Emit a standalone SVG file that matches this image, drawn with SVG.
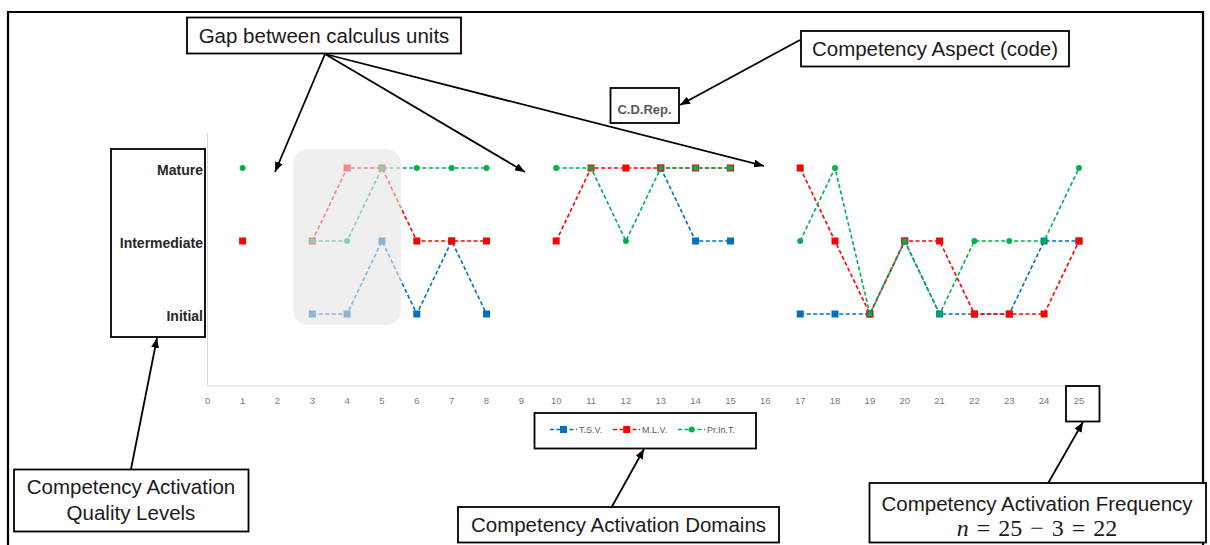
<svg xmlns="http://www.w3.org/2000/svg" width="1210" height="545" viewBox="0 0 1210 545">
  <style>
    .box { fill: #ffffff; stroke: #000000; stroke-width: 1.8; }
    .lbl { font-family: "Liberation Sans", Arial, sans-serif; font-size: 20.5px; fill: #1a1a1a; }
    .eq { font-family: "Liberation Serif", "Times New Roman", serif; font-size: 24px; fill: #1a1a1a; word-spacing: 2px; }
    .lvl { font-family: "Liberation Sans", Arial, sans-serif; font-size: 14px; font-weight: bold; fill: #262626; text-anchor: end; }
    .tick { font-family: "Liberation Sans", Arial, sans-serif; font-size: 9.5px; fill: #7a7a7a; text-anchor: middle; }
    .leg { font-family: "Liberation Sans", Arial, sans-serif; font-size: 9px; fill: #595959; }
    .axis { stroke: #d9d9d9; stroke-width: 1; fill: none; }
    .ser { fill: none; stroke-width: 1.6; stroke-dasharray: 4 2.5; }
    .tsv { stroke: #0070c0; }
    .mlv { stroke: #ff0000; }
    .pit { stroke: #00b050; }
    .mb { fill: #0070c0; }
    .mr { fill: #ff0000; }
    .mg { fill: #00b050; }
    .conn { stroke: #000000; stroke-width: 1.8; fill: none; marker-end: url(#ah); }
  </style>
  <defs>
    <marker id="ah" viewBox="0 0 10 8" refX="10" refY="4" markerWidth="10" markerHeight="8" markerUnits="userSpaceOnUse" orient="auto">
      <path d="M0,0 L10,4 L0,8 z" fill="#000000"/>
    </marker>
    <rect id="sq" x="-3.5" y="-3.5" width="7" height="7"/>
    <rect id="sqs" x="-2.5" y="-2.5" width="5" height="5"/>
    <circle id="dot" r="3"/>
  </defs>

  <rect width="1210" height="545" fill="#ffffff"/>

  <!-- outer frame -->
  <path d="M8,545 V12 H1203 V545" fill="none" stroke="#000000" stroke-width="2.2"/>

  <!-- chart -->
  <g id="chart">
    <path class="axis" d="M207.5,133 V386 H1097"/>

    <g id="x-ticks">
      <text class="tick" x="207.7" y="404">0</text>
      <text class="tick" x="242.6" y="404">1</text>
      <text class="tick" x="277.4" y="404">2</text>
      <text class="tick" x="312.3" y="404">3</text>
      <text class="tick" x="347.1" y="404">4</text>
      <text class="tick" x="382" y="404">5</text>
      <text class="tick" x="416.8" y="404">6</text>
      <text class="tick" x="451.7" y="404">7</text>
      <text class="tick" x="486.5" y="404">8</text>
      <text class="tick" x="521.4" y="404">9</text>
      <text class="tick" x="556.2" y="404">10</text>
      <text class="tick" x="591.1" y="404">11</text>
      <text class="tick" x="625.9" y="404">12</text>
      <text class="tick" x="660.8" y="404">13</text>
      <text class="tick" x="695.6" y="404">14</text>
      <text class="tick" x="730.5" y="404">15</text>
      <text class="tick" x="765.3" y="404">16</text>
      <text class="tick" x="800.2" y="404">17</text>
      <text class="tick" x="835" y="404">18</text>
      <text class="tick" x="869.9" y="404">19</text>
      <text class="tick" x="904.7" y="404">20</text>
      <text class="tick" x="939.6" y="404">21</text>
      <text class="tick" x="974.4" y="404">22</text>
      <text class="tick" x="1009.3" y="404">23</text>
      <text class="tick" x="1044.1" y="404">24</text>
      <text class="tick" x="1079" y="404">25</text>
    </g>

    <!-- T.S.V. series -->
    <g id="series-tsv">
      <polyline class="ser tsv" points="312.3,314 347.1,314 382,241 416.8,314 451.7,241 486.5,314"/>
      <polyline class="ser tsv" points="660.8,168 695.6,241 730.5,241"/>
      <polyline class="ser tsv" points="800.2,314 835,314 869.9,314 904.7,241 939.6,314 974.4,314 1009.3,314 1044.1,241 1079,241"/>
      <g class="mb">
        <use href="#sq" x="312.3" y="314"/><use href="#sq" x="347.1" y="314"/><use href="#sq" x="382" y="241"/>
        <use href="#sq" x="416.8" y="314"/><use href="#sq" x="451.7" y="241"/><use href="#sq" x="486.5" y="314"/>
        <use href="#sq" x="660.8" y="168"/><use href="#sq" x="695.6" y="241"/><use href="#sq" x="730.5" y="241"/>
        <use href="#sq" x="800.2" y="314"/><use href="#sq" x="835" y="314"/><use href="#sq" x="869.9" y="314"/>
        <use href="#sq" x="904.7" y="241"/><use href="#sq" x="939.6" y="314"/><use href="#sq" x="974.4" y="314"/>
        <use href="#sq" x="1009.3" y="314"/><use href="#sq" x="1044.1" y="241"/><use href="#sq" x="1079" y="241"/>
      </g>
    </g>

    <!-- M.L.V. series -->
    <g id="series-mlv">
      <polyline class="ser mlv" points="312.3,241 347.1,168 382,168 416.8,241 451.7,241 486.5,241"/>
      <polyline class="ser mlv" points="556.2,241 591.1,168 625.9,168 660.8,168 695.6,168 730.5,168"/>
      <polyline class="ser mlv" points="800.2,168 835,241 869.9,314 904.7,241 939.6,241 974.4,314 1009.3,314 1044.1,314 1079,241"/>
      <g class="mr">
        <use href="#sq" x="242.6" y="241"/>
        <use href="#sq" x="312.3" y="241"/><use href="#sq" x="347.1" y="168"/><use href="#sq" x="382" y="168"/>
        <use href="#sq" x="416.8" y="241"/><use href="#sq" x="451.7" y="241"/><use href="#sq" x="486.5" y="241"/>
        <use href="#sq" x="556.2" y="241"/><use href="#sq" x="591.1" y="168"/><use href="#sq" x="625.9" y="168"/>
        <use href="#sq" x="660.8" y="168"/><use href="#sq" x="695.6" y="168"/><use href="#sq" x="730.5" y="168"/>
        <use href="#sq" x="800.2" y="168"/><use href="#sq" x="835" y="241"/><use href="#sq" x="869.9" y="314"/>
        <use href="#sq" x="904.7" y="241"/><use href="#sq" x="939.6" y="241"/><use href="#sq" x="974.4" y="314"/>
        <use href="#sq" x="1009.3" y="314"/><use href="#sq" x="1044.1" y="314"/><use href="#sq" x="1079" y="241"/>
      </g>
    </g>

    <!-- Pr.In.T. series -->
    <g id="series-print">
      <polyline class="ser pit" points="312.3,241 347.1,241 382,168 416.8,168 451.7,168 486.5,168"/>
      <polyline class="ser pit" points="556.2,168 591.1,168 625.9,241 660.8,168 695.6,168 730.5,168"/>
      <polyline class="ser pit" points="800.2,241 835,168 869.9,314 904.7,241 939.6,314 974.4,241 1009.3,241 1044.1,241 1079,168"/>
      <g class="mg">
        <use href="#dot" x="242.6" y="168"/>
        <use href="#dot" x="347.1" y="241"/>
        <use href="#dot" x="416.8" y="168"/><use href="#dot" x="451.7" y="168"/><use href="#dot" x="486.5" y="168"/>
        <use href="#dot" x="556.2" y="168"/><use href="#dot" x="625.9" y="241"/>
        <use href="#dot" x="800.2" y="241"/><use href="#dot" x="835" y="168"/>
        <use href="#dot" x="974.4" y="241"/><use href="#dot" x="1009.3" y="241"/><use href="#dot" x="1079" y="168"/>
        <!-- points shared with a square-marker series -->
        <use href="#sqs" x="312.3" y="241"/><use href="#sqs" x="382" y="168"/>
        <use href="#sqs" x="591.1" y="168"/><use href="#sqs" x="660.8" y="168"/><use href="#sqs" x="695.6" y="168"/><use href="#sqs" x="730.5" y="168"/>
        <use href="#sqs" x="869.9" y="314"/><use href="#sqs" x="904.7" y="241"/><use href="#sqs" x="939.6" y="314"/><use href="#sqs" x="1044.1" y="241"/>
      </g>
    </g>

    <!-- shaded highlight over units 3-5 -->
    <rect id="highlight" x="293" y="149" width="108" height="176" rx="15" fill="#e4e4e4" opacity="0.6"/>

    <!-- legend -->
    <g id="legend">
      <rect class="box" x="534.5" y="413" width="221.5" height="35.5"/>
      <line class="ser tsv" x1="550" y1="429.5" x2="577" y2="429.5" stroke-dasharray="3 2"/>
      <use href="#sq" x="563.5" y="429.5" class="mb"/>
      <text class="leg" x="579" y="432.7">T.S.V.</text>
      <line class="ser mlv" x1="613" y1="429.5" x2="640" y2="429.5" stroke-dasharray="3 2"/>
      <use href="#sq" x="626.7" y="429.5" class="mr"/>
      <text class="leg" x="642" y="432.7">M.L.V.</text>
      <line class="ser pit" x1="678" y1="429.5" x2="705" y2="429.5" stroke-dasharray="3 2"/>
      <use href="#dot" x="691.7" y="429.5" class="mg"/>
      <text class="leg" x="707" y="432.7">Pr.In.T.</text>
    </g>
  </g>

  <!-- quality level axis labels -->
  <g id="levels">
    <rect class="box" x="111" y="149" width="94" height="188" fill="none"/>
    <text class="lvl" x="203" y="174.5">Mature</text>
    <text class="lvl" x="203" y="247.5">Intermediate</text>
    <text class="lvl" x="203" y="320.5">Initial</text>
  </g>

  <!-- aspect code -->
  <g id="aspect-code">
    <rect class="box" x="610.5" y="88" width="68.5" height="35"/>
    <text x="644.5" y="114" font-family="Liberation Sans, Arial, sans-serif" font-size="13" font-weight="bold" fill="#595959" text-anchor="middle">C.D.Rep.</text>
  </g>

  <!-- last unit marker -->
  <g id="unit-25">
    <rect x="1066" y="386" width="33.5" height="35.5" fill="none" stroke="#000000" stroke-width="1.8"/>
  </g>

  <!-- annotation nodes -->
  <g id="gap-note">
    <rect class="box" x="187" y="17.5" width="274" height="36"/>
    <text class="lbl" x="324" y="42.5" text-anchor="middle">Gap between calculus units</text>
  </g>
  <g id="aspect-note">
    <rect class="box" x="801" y="31" width="268" height="35.5"/>
    <text class="lbl" x="935" y="56" text-anchor="middle">Competency Aspect (code)</text>
  </g>
  <g id="levels-note">
    <rect class="box" x="14" y="469.5" width="234.5" height="62"/>
    <text class="lbl" x="131" y="494" text-anchor="middle">Competency Activation</text>
    <text class="lbl" x="131" y="519.5" text-anchor="middle">Quality Levels</text>
  </g>
  <g id="domains-note">
    <rect class="box" x="458" y="507" width="321" height="35.5"/>
    <text class="lbl" x="618.5" y="531.5" text-anchor="middle">Competency Activation Domains</text>
  </g>
  <g id="frequency-note">
    <rect class="box" x="869.5" y="483" width="336.5" height="59.5"/>
    <text class="lbl" x="1037" y="510.5" text-anchor="middle">Competency Activation Frequency</text>
    <text class="eq" x="1037" y="536" text-anchor="middle"><tspan font-style="italic">n</tspan> = 25 − 3 = 22</text>
  </g>

  <!-- connectors -->
  <g id="connectors">
    <line class="conn" x1="325" y1="54" x2="275" y2="172"/>
    <line class="conn" x1="325" y1="54" x2="525" y2="172"/>
    <line class="conn" x1="325" y1="54" x2="764" y2="166"/>
    <line class="conn" x1="800" y1="40" x2="680" y2="105"/>
    <line class="conn" x1="131" y1="469" x2="157" y2="338"/>
    <line class="conn" x1="612" y1="506.5" x2="644" y2="449"/>
    <line class="conn" x1="1048.5" y1="482.5" x2="1083" y2="422"/>
  </g>
</svg>
